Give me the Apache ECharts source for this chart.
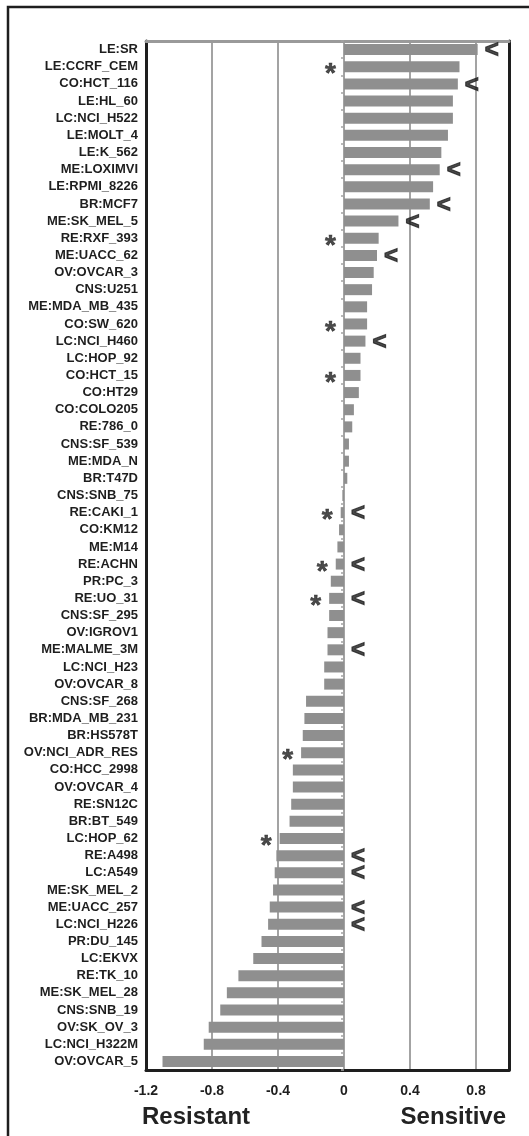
<!DOCTYPE html>
<html>
<head>
<meta charset="utf-8">
<script src="https://cdn.jsdelivr.net/npm/echarts@6/dist/echarts.min.js"></script>
<style>
  html, body { margin: 0; padding: 0; background: #fff; }
  #chart { width: 529px; height: 1136px; }
</style>
</head>
<body>
<div id="chart"></div>
<script>
// cell lines, top to bottom
const cellLines = [
  'LE:SR', 'LE:CCRF_CEM', 'CO:HCT_116', 'LE:HL_60', 'LC:NCI_H522', 'LE:MOLT_4', 'LE:K_562',
  'ME:LOXIMVI', 'LE:RPMI_8226', 'BR:MCF7', 'ME:SK_MEL_5', 'RE:RXF_393', 'ME:UACC_62',
  'OV:OVCAR_3', 'CNS:U251', 'ME:MDA_MB_435', 'CO:SW_620', 'LC:NCI_H460', 'LC:HOP_92',
  'CO:HCT_15', 'CO:HT29', 'CO:COLO205', 'RE:786_0', 'CNS:SF_539', 'ME:MDA_N', 'BR:T47D',
  'CNS:SNB_75', 'RE:CAKI_1', 'CO:KM12', 'ME:M14', 'RE:ACHN', 'PR:PC_3', 'RE:UO_31',
  'CNS:SF_295', 'OV:IGROV1', 'ME:MALME_3M', 'LC:NCI_H23', 'OV:OVCAR_8', 'CNS:SF_268',
  'BR:MDA_MB_231', 'BR:HS578T', 'OV:NCI_ADR_RES', 'CO:HCC_2998', 'OV:OVCAR_4', 'RE:SN12C',
  'BR:BT_549', 'LC:HOP_62', 'RE:A498', 'LC:A549', 'ME:SK_MEL_2', 'ME:UACC_257',
  'LC:NCI_H226', 'PR:DU_145', 'LC:EKVX', 'RE:TK_10', 'ME:SK_MEL_28', 'CNS:SNB_19',
  'OV:SK_OV_3', 'LC:NCI_H322M', 'OV:OVCAR_5'
]

const scores = [
  0.81, 0.70, 0.69, 0.66, 0.66, 0.63, 0.59,
  0.58, 0.54, 0.52, 0.33, 0.21, 0.20,
  0.18, 0.17, 0.14, 0.14, 0.13, 0.10,
  0.10, 0.09, 0.06, 0.05, 0.03, 0.03, 0.02,
  -0.01, -0.02, -0.03, -0.04, -0.05, -0.08, -0.09,
  -0.09, -0.10, -0.10, -0.12, -0.12, -0.23,
  -0.24, -0.25, -0.26, -0.31, -0.31, -0.32,
  -0.33, -0.39, -0.41, -0.42, -0.43, -0.45,
  -0.46, -0.50, -0.55, -0.64, -0.71, -0.75,
  -0.82, -0.85, -1.10
]

// lines flagged with '*'
const starLines = [
  'LE:CCRF_CEM', 'RE:RXF_393', 'CO:SW_620', 'CO:HCT_15', 'RE:CAKI_1',
  'RE:ACHN', 'RE:UO_31', 'OV:NCI_ADR_RES', 'LC:HOP_62'
]

// lines flagged with '<'
const arrowLines = [
  'LE:SR', 'CO:HCT_116', 'ME:LOXIMVI', 'BR:MCF7', 'ME:SK_MEL_5', 'ME:UACC_62',
  'LC:NCI_H460', 'RE:CAKI_1', 'RE:ACHN', 'RE:UO_31', 'ME:MALME_3M', 'RE:A498',
  'LC:A549', 'ME:UACC_257', 'LC:NCI_H226'
]

const xTicks = { min: -1.2, max: 1.0, step: 0.4 }

const FONT = '"Liberation Sans", Arial, sans-serif'
const INK = '#1e1e1e'

// '*' sits left of the bar start, '<' right of the bar end
const starData = starLines.map(name => {
  const v = scores[cellLines.indexOf(name)]
  return [Math.min(v, 0), name]
})
const arrowData = arrowLines.map(name => {
  const v = scores[cellLines.indexOf(name)]
  return [Math.max(v, 0), name]
})

const chart = echarts.init(document.getElementById('chart'))

const catAxisBase = {
  type: 'category',
  data: cellLines,
  inverse: true,
  boundaryGap: true
}

chart.setOption({
  animation: false,
  backgroundColor: '#fff',
  textStyle: { fontFamily: FONT },
  grid: { left: 146, right: 20, top: 41, bottom: 66, containLabel: false },
  xAxis: [
    {
      type: 'value',
      position: 'bottom',
      min: xTicks.min,
      max: xTicks.max,
      interval: xTicks.step,
      axisLine: { show: true, onZero: false, lineStyle: { color: INK, width: 3 } },
      axisTick: { show: false },
      axisLabel: {
        showMaxLabel: false,
        margin: 14,
        color: INK,
        fontSize: 14,
        fontWeight: 'bold',
        fontFamily: FONT,
        formatter: v => Number(v.toFixed(1)).toString()
      },
      splitLine: { show: true, lineStyle: { color: '#a3a3a3', width: 2 } }
    },
    {
      type: 'value',
      position: 'top',
      min: xTicks.min,
      max: xTicks.max,
      interval: xTicks.step,
      axisLine: { show: true, onZero: false, lineStyle: { color: '#9a9a9a', width: 3 } },
      axisTick: { show: false },
      axisLabel: { show: false },
      splitLine: { show: false }
    }
  ],
  yAxis: [
    {
      ...catAxisBase,
      position: 'left',
      axisLine: { onZero: false, lineStyle: { color: INK, width: 3 } },
      axisTick: { show: false },
      axisLabel: {
        margin: 8,
        color: INK,
        fontSize: 13,
        fontWeight: 'bold',
        fontFamily: FONT,
        interval: 0
      }
    },
    {
      ...catAxisBase,
      position: 'left',
      axisLine: { onZero: true, onZeroAxisIndex: 0, lineStyle: { color: '#a3a3a3', width: 1.5 } },
      axisTick: { show: true, length: 3, lineStyle: { color: '#a3a3a3', width: 1.5 } },
      axisLabel: { show: false }
    },
    {
      ...catAxisBase,
      position: 'right',
      axisLine: { onZero: false, lineStyle: { color: INK, width: 3 } },
      axisTick: { show: false },
      axisLabel: { show: false }
    }
  ],
  series: [
    {
      type: 'bar',
      xAxisIndex: 0,
      yAxisIndex: 0,
      data: scores,
      barWidth: 11,
      itemStyle: { color: '#8f8f8f' },
      z: 3
    },
    {
      type: 'scatter',
      xAxisIndex: 0,
      yAxisIndex: 0,
      data: starData,
      symbolSize: 2,
      itemStyle: { color: 'rgba(0,0,0,0)' },
      label: {
        show: true,
        position: 'left',
        distance: 7,
        formatter: '*',
        color: INK,
        fontSize: 28,
        fontWeight: 'bold',
        fontFamily: FONT,
        textBorderColor: INK,
        textBorderWidth: 0.6,
        offset: [0, 8]
      },
      z: 5
    },
    {
      type: 'scatter',
      xAxisIndex: 0,
      yAxisIndex: 0,
      data: arrowData,
      symbolSize: 2,
      itemStyle: { color: 'rgba(0,0,0,0)' },
      label: {
        show: true,
        position: 'right',
        distance: 6,
        formatter: '<',
        color: INK,
        fontSize: 24,
        fontWeight: 'bold',
        fontFamily: FONT,
        textBorderColor: INK,
        textBorderWidth: 1.2,
        offset: [0, 1]
      },
      z: 5
    }
  ],
  graphic: [
    {
      type: 'rect',
      shape: { x: 8, y: 7, width: 700, height: 1300 },
      style: { fill: 'none', stroke: INK, lineWidth: 2.5 },
      silent: true
    },
    {
      type: 'text',
      left: 142,
      top: 1105,
      style: { text: 'Resistant', fill: '#222', font: 'bold 24px ' + FONT }
    },
    {
      type: 'text',
      right: 23,
      top: 1105,
      style: { text: 'Sensitive', fill: '#222', font: 'bold 24px ' + FONT }
    }
  ]
})
</script>
</body>
</html>
